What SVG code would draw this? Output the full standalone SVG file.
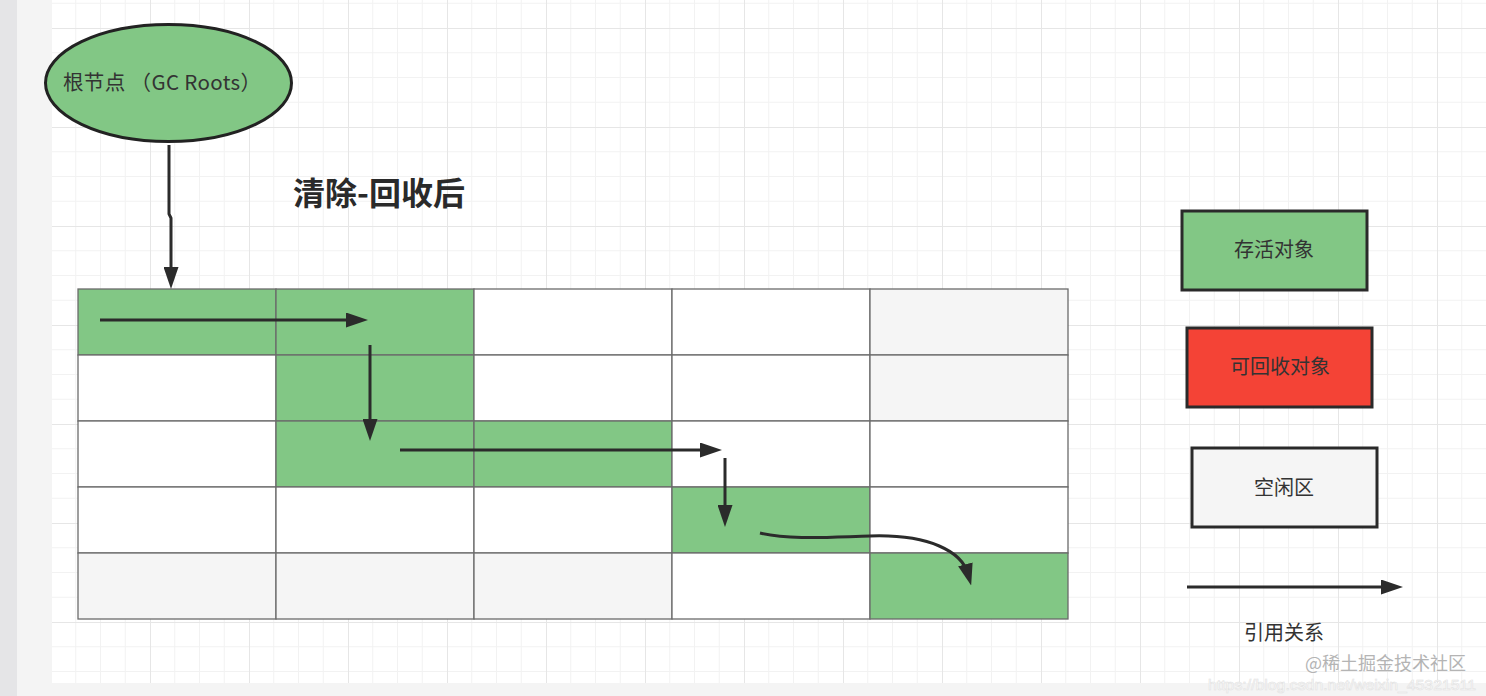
<svg xmlns="http://www.w3.org/2000/svg" width="1486" height="696" viewBox="0 0 1486 696">
<defs>
<pattern id="grid" patternUnits="userSpaceOnUse" x="51" y="28" width="99" height="99">
<path d="M24.75 0V99M49.5 0V99M74.25 0V99M0 24.75H99M0 49.5H99M0 74.25H99" stroke="#f2f2f2" stroke-width="1" fill="none"/>
<path d="M0.5 0V99M0 0.5H99" stroke="#e6e6e6" stroke-width="1" fill="none"/>
</pattern>
<marker id="ah" markerUnits="userSpaceOnUse" markerWidth="22" markerHeight="15" refX="10" refY="7.5" orient="auto">
<path d="M0 0L22 7.5L0 15z" fill="#2b2b2b"/>
</marker>
</defs>
<style>
.t{font-family:"Noto Sans CJK SC","Noto Sans",sans-serif;fill:#333;}
.cell{stroke:#6b6b6b;stroke-width:1.3;}
.g{fill:#82c785;}
.w{fill:#ffffff;}
.e{fill:#f5f5f5;}
.ln{fill:none;stroke:#2b2b2b;stroke-width:3;marker-end:url(#ah);}
.box{stroke:#2a2a2a;stroke-width:3;}
</style>
<rect x="0" y="0" width="1486" height="696" fill="#f4f4f4"/>
<rect x="0" y="0" width="17" height="696" fill="#e5e5e7"/>
<rect x="52" y="0" width="1434" height="683" fill="#ffffff"/>
<rect x="52" y="0" width="1434" height="683" fill="url(#grid)"/>

<g id="root">
<ellipse cx="168.5" cy="83" rx="123" ry="58.5" fill="#82c785" stroke="#222" stroke-width="3"/>
<text class="t" x="63" y="90" font-size="20.5" textLength="198" lengthAdjust="spacing">根节点 （GC Roots）</text>
</g>

<g id="title">
<text class="t" x="379" y="205" font-size="32" font-weight="bold" text-anchor="middle" style="fill:#2a2a2a">清除-回收后</text>
</g>

<g id="heap">
<rect class="cell g" x="78" y="289" width="198" height="66"/>
<rect class="cell g" x="276" y="289" width="198" height="66"/>
<rect class="cell w" x="474" y="289" width="198" height="66"/>
<rect class="cell w" x="672" y="289" width="198" height="66"/>
<rect class="cell e" x="870" y="289" width="198" height="66"/>

<rect class="cell w" x="78" y="355" width="198" height="66"/>
<rect class="cell g" x="276" y="355" width="198" height="66"/>
<rect class="cell w" x="474" y="355" width="198" height="66"/>
<rect class="cell w" x="672" y="355" width="198" height="66"/>
<rect class="cell e" x="870" y="355" width="198" height="66"/>

<rect class="cell w" x="78" y="421" width="198" height="66"/>
<rect class="cell g" x="276" y="421" width="198" height="66"/>
<rect class="cell g" x="474" y="421" width="198" height="66"/>
<rect class="cell w" x="672" y="421" width="198" height="66"/>
<rect class="cell w" x="870" y="421" width="198" height="66"/>

<rect class="cell w" x="78" y="487" width="198" height="66"/>
<rect class="cell w" x="276" y="487" width="198" height="66"/>
<rect class="cell w" x="474" y="487" width="198" height="66"/>
<rect class="cell g" x="672" y="487" width="198" height="66"/>
<rect class="cell w" x="870" y="487" width="198" height="66"/>

<rect class="cell e" x="78" y="553" width="198" height="66"/>
<rect class="cell e" x="276" y="553" width="198" height="66"/>
<rect class="cell e" x="474" y="553" width="198" height="66"/>
<rect class="cell w" x="672" y="553" width="198" height="66"/>
<rect class="cell g" x="870" y="553" width="198" height="66"/>
</g>

<g id="legend-live">
<rect class="box" x="1182" y="211" width="185" height="79" fill="#82c785"/>
<text class="t" x="1274" y="257" font-size="20" text-anchor="middle">存活对象</text>
</g>
<g id="legend-garbage">
<rect class="box" x="1187" y="328" width="185" height="79" fill="#f44336"/>
<text class="t" x="1280" y="374" font-size="20" text-anchor="middle">可回收对象</text>
</g>
<g id="legend-free">
<rect class="box" x="1192" y="448" width="185" height="79" fill="#f5f5f5"/>
<text class="t" x="1284" y="495" font-size="20" text-anchor="middle">空闲区</text>
</g>
<g id="legend-ref">
<text class="t" x="1284" y="640" font-size="20" text-anchor="middle">引用关系</text>
</g>

<g id="connectors">
<path class="ln" d="M169 145V214L171 218V277"/>
<path class="ln" d="M100 320H356"/>
<path class="ln" d="M370 345V429"/>
<path class="ln" d="M400 450H710"/>
<path class="ln" d="M725 458V515"/>
<path class="ln" d="M760 533C790 540 830 537 870 536C930 534 962 552 968 574"/>
<path class="ln" d="M1187 587H1391"/>
</g>

<g id="watermark">
<text x="1466" y="670" font-size="18" text-anchor="end" style="font-family:'Noto Sans CJK SC',sans-serif;fill:#b4b4b4">@稀土掘金技术社区</text>
<text x="1208" y="690" font-size="15" textLength="268" lengthAdjust="spacingAndGlyphs" style="font-family:'Liberation Sans',sans-serif;fill:#ffffff;stroke:#e2e2e2;stroke-width:0.6">https://blog.csdn.net/weixin_45321511</text>
</g>
</svg>
